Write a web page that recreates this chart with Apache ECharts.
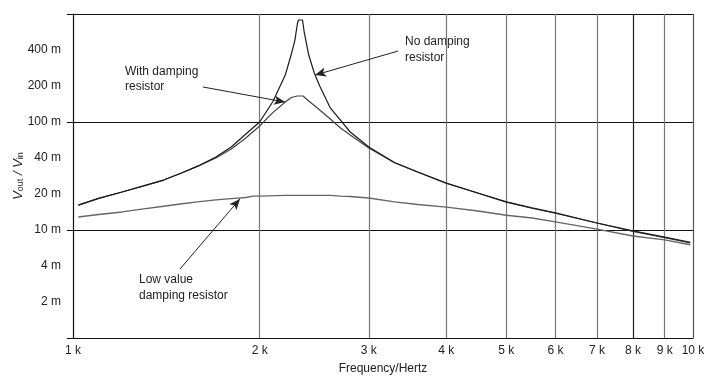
<!DOCTYPE html>
<html>
<head>
<meta charset="utf-8">
<script src="https://cdn.jsdelivr.net/npm/echarts/dist/echarts.min.js"></script>
<style>html,body{margin:0;padding:0;background:#fff;}#c{width:710px;height:385px;}</style>
</head>
<body>
<div id="c"></div>
<script>
// X tick values (Hz) and labels
const xTickValues = [1000, 2000, 3000, 4000, 5000, 6000, 7000, 8000, 9000, 10000];
const xTickLabels = ['1 k', '2 k', '3 k', '4 k', '5 k', '6 k', '7 k', '8 k', '9 k', '10 k'];
// Y tick (label) values and labels — third-decade positions
const yLabelValues = [0.002154, 0.004642, 0.01, 0.02154, 0.04642, 0.1, 0.2154, 0.4642];
const yTickLabels = ['2 m', '4 m', '10 m', '20 m', '40 m', '100 m', '200 m', '400 m'];
const yGridValues = [0.001, 0.01, 0.1, 1];

// No damping resistor
const freqN = [1020,1100,1200,1300,1400,1500,1600,1700,1800,1900,2000,2100,2200,2250,2280,2300,2310,2345,2360,2400,2450,2500,2600,2700,2800,3000,3300,3600,4000,4500,5000,5500,6000,7000,8000,9000,9900];
const noDamp = [0.0170,0.0196,0.0225,0.0256,0.0290,0.0339,0.0397,0.0474,0.0587,0.0774,0.100,0.154,0.272,0.426,0.574,0.80,0.88,0.88,0.681,0.417,0.284,0.215,0.135,0.104,0.0808,0.0587,0.0422,0.0344,0.0272,0.0220,0.0182,0.0160,0.0144,0.0116,0.0098,0.0086,0.0077];

// With damping resistor
const freqW = [1020,1100,1200,1300,1400,1500,1600,1700,1800,1900,2000,2100,2200,2250,2300,2350,2400,2450,2500,2600,2700,2800,3000,3300,3600,4000,4500,5000,5500,6000,7000,8000,9000,9900];
const withDamp = [0.0170,0.0196,0.0225,0.0256,0.0290,0.0339,0.0397,0.0464,0.0562,0.0711,0.0918,0.1222,0.1531,0.1686,0.1741,0.1741,0.1565,0.1422,0.1292,0.1066,0.0880,0.0758,0.0574,0.0420,0.0343,0.0271,0.0219,0.0181,0.0159,0.0143,0.0116,0.0097,0.0085,0.0076];

// Low value damping resistor
const freqL = [1020,1100,1200,1300,1400,1500,1600,1700,1800,1900,1950,2000,2200,2400,2600,2700,2800,3000,3300,3600,4000,4500,5000,5500,6000,7000,8000,9000,9900];
const lowDamp = [0.0132,0.0139,0.0147,0.0157,0.0166,0.0175,0.0183,0.0190,0.0195,0.0200,0.0206,0.0206,0.0209,0.0209,0.0209,0.0206,0.0204,0.0198,0.0182,0.0172,0.0163,0.0150,0.0137,0.0129,0.0119,0.0102,0.0088,0.0081,0.0073];

const pairs = (xs, ys) => xs.map((x, i) => [x, ys[i]]);
const FONT = "'Liberation Sans', Arial, sans-serif";

const chart = echarts.init(document.getElementById('c'), null, {renderer: 'canvas'});
chart.setOption({
  animation: false,
  backgroundColor: '#fff',
  grid: {left: 73, right: 17, top: 14, bottom: 47, containLabel: false, outerBoundsMode: 'none'},
  xAxis: {
    type: 'log', logBase: 10, min: 1000, max: 10000,
    name: 'Frequency/Hertz', nameLocation: 'middle', nameGap: 25, nameMoveOverlap: false,
    nameTextStyle: {fontFamily: FONT, fontSize: 12, color: '#222'},
    axisLine: {show: true, lineStyle: {color: '#111', width: 1}},
    axisTick: {show: false, customValues: xTickValues},
    axisLabel: {
      customValues: xTickValues, margin: 7,
      fontFamily: FONT, fontSize: 12, color: '#222',
      formatter: v => { const i = xTickValues.findIndex(t => Math.abs(t - v) < 1); return i >= 0 ? xTickLabels[i] : ''; }
    },
    splitLine: {show: true, lineStyle: {color: ['#111','#777','#777','#777','#777','#777','#777','#222','#777','#555'], width: 1.2}},
    minorSplitLine: {show: false}
  },
  yAxis: {
    type: 'log', logBase: 10, min: 0.001, max: 1,
    name: '{v|V}{s|out}{v| / V}{s|in}', nameLocation: 'middle', nameGap: 48, nameRotate: 90, nameMoveOverlap: false,
    nameTextStyle: {
      fontFamily: FONT, color: '#222',
      rich: {
        v: {fontFamily: 'Liberation Sans', fontSize: 13, fontStyle: 'italic', color: '#222', verticalAlign: 'bottom', lineHeight: 16},
        s: {fontFamily: 'Liberation Sans', fontSize: 9, color: '#222', verticalAlign: 'bottom', lineHeight: 12}
      }
    },
    axisLine: {show: true, lineStyle: {color: '#111', width: 1}},
    axisTick: {show: true, customValues: yGridValues, length: 6, lineStyle: {color: '#111'}},
    axisLabel: {
      customValues: yLabelValues, margin: 12,
      fontFamily: FONT, fontSize: 12, color: '#222',
      formatter: v => {
        let best = 0;
        yLabelValues.forEach((t, i) => { if (Math.abs(Math.log10(t) - Math.log10(v)) < Math.abs(Math.log10(yLabelValues[best]) - Math.log10(v))) best = i; });
        return yTickLabels[best];
      }
    },
    splitLine: {show: true, lineStyle: {color: '#111', width: 1}},
    minorSplitLine: {show: false}
  },
  series: [
    {
      name: 'No damping resistor', type: 'line', data: pairs(freqN, noDamp),
      showSymbol: false, symbol: 'none', lineStyle: {color: '#1a1a1a', width: 1.2}, z: 3,
      markLine: {
        silent: true, symbol: ['none', 'arrow'], symbolSize: [7, 11],
        lineStyle: {color: '#222', width: 1, type: 'solid'}, label: {show: false},
        data: [
          [{coord: [3344, 0.454]}, {coord: [2457, 0.272]}],
          [{coord: [1620, 0.211]}, {coord: [2198, 0.153]}],
          [{coord: [1488, 0.00435]}, {coord: [1859, 0.0194]}]
        ]
      }
    },
    {
      name: 'With damping resistor', type: 'line', data: pairs(freqW, withDamp),
      showSymbol: false, symbol: 'none', lineStyle: {color: '#444', width: 1.2}, z: 2
    },
    {
      name: 'Low value damping resistor', type: 'line', data: pairs(freqL, lowDamp),
      showSymbol: false, symbol: 'none', lineStyle: {color: '#666', width: 1.4}, z: 2
    }
  ],
  graphic: [
    {type: 'text', left: 125, top: 64, style: {text: 'With damping\nresistor', font: '12px ' + FONT, fill: '#222', lineHeight: 15}},
    {type: 'text', left: 405, top: 34, style: {text: 'No damping\nresistor', font: '12px ' + FONT, fill: '#222', lineHeight: 16}},
    {type: 'text', left: 139, top: 272, style: {text: 'Low value\ndamping resistor', font: '12px ' + FONT, fill: '#222', lineHeight: 16}}
  ]
});
</script>
</body>
</html>
